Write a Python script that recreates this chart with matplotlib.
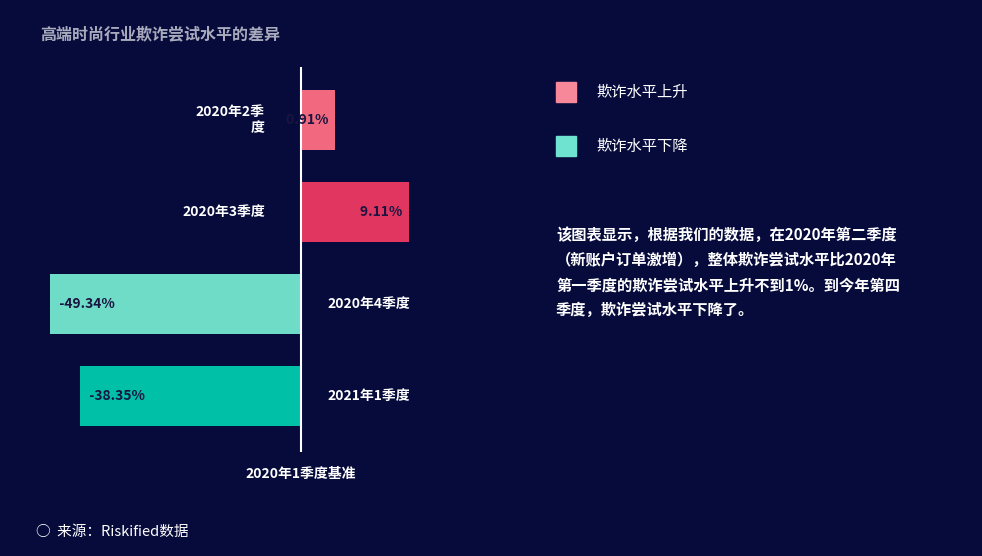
import numpy as np
import matplotlib.pyplot as plt

plt.rcParams['font.family'] = ['Noto Sans CJK SC', 'DejaVu Sans']

categories = ["2020年2季\n度", "2020年3季度", "2020年4季度", "2021年1季度"]
values = [0.91, 9.11, -49.34, -38.35]
colors = ["#f2687f", "#e03660", "#6fdcc8", "#00c0a8"]
legend_labels = ["欺诈水平上升", "欺诈水平下降"]
legend_colors = ["#f7889a", "#6fe3cf"]

BG = "#070b3c"
W, H = 982, 556


def fwd(x):
    return np.sign(x) * np.sqrt(np.abs(x))


def inv(x):
    return np.sign(x) * x ** 2


fig = plt.figure(figsize=(W / 100, H / 100), dpi=100, facecolor=BG)
ax = fig.add_axes([30 / W, (H - 452) / H, 530 / W, 385 / H])
ax.set_facecolor(BG)
ax.set_xscale('function', functions=(fwd, inv))
ax.set_xlim(-57.6, 52.6)
ax.set_ylim(3.61, -0.58)
y = np.arange(len(values))
ax.barh(y, values, height=0.65, color=colors, zorder=2)
ax.axvline(0, color="white", lw=1.5, zorder=3)
for s in ax.spines.values():
    s.set_visible(False)
ax.set_xticks([])
ax.set_yticks([])

for yi, v, c in zip(y, values, categories):
    if v > 0:
        ax.text(v, yi, f"{v:.2f}%  ", ha="right", va="center", color="#1a1540",
                fontsize=10, fontweight="bold")
        ax.annotate(c, (0, yi), xytext=(-26, 0), textcoords="offset points",
                    ha="right", va="center", color="white", fontsize=10,
                    fontweight="bold", multialignment="right")
    else:
        ax.text(v, yi, f"   {v:.2f}%", ha="left", va="center", color="#1a1540",
                fontsize=10, fontweight="bold")
        ax.annotate(c, (0, yi), xytext=(19, 0), textcoords="offset points",
                    ha="left", va="center", color="white", fontsize=10,
                    fontweight="bold")

fig.text(301 / W, 1 - 474 / H, "2020年1季度基准", ha="center", va="center",
         color="white", fontsize=10, fontweight="bold")
fig.text(40 / W, 1 - 34 / H, "高端时尚行业欺诈尝试水平的差异", ha="left",
         va="center", color="#a9abbd", fontsize=11.5, fontweight="bold")
fig.text(36 / W, 1 - 532 / H, "○  来源：Riskified数据", ha="left", va="center",
         color="white", fontsize=10.5)

for i, (lab, col) in enumerate(zip(legend_labels, legend_colors)):
    yc = 92 + i * 54
    fig.patches.append(plt.Rectangle((556 / W, 1 - (yc + 10) / H), 20 / W, 20 / H,
                                     transform=fig.transFigure, color=col))
    fig.text(596 / W, 1 - yc / H, lab, ha="left", va="center", color="white",
             fontsize=11)

para = ["该图表显示，根据我们的数据，在2020年第二季度",
        "（新账户订单激增），整体欺诈尝试水平比2020年",
        "第一季度的欺诈尝试水平上升不到1%。到今年第四",
        "季度，欺诈尝试水平下降了。"]
for i, line in enumerate(para):
    fig.text(556 / W, 1 - (235 + i * 25) / H, line, ha="left", va="center",
             color="white", fontsize=11, fontweight="bold")

fig.savefig("out.png", dpi=100, facecolor=BG)
